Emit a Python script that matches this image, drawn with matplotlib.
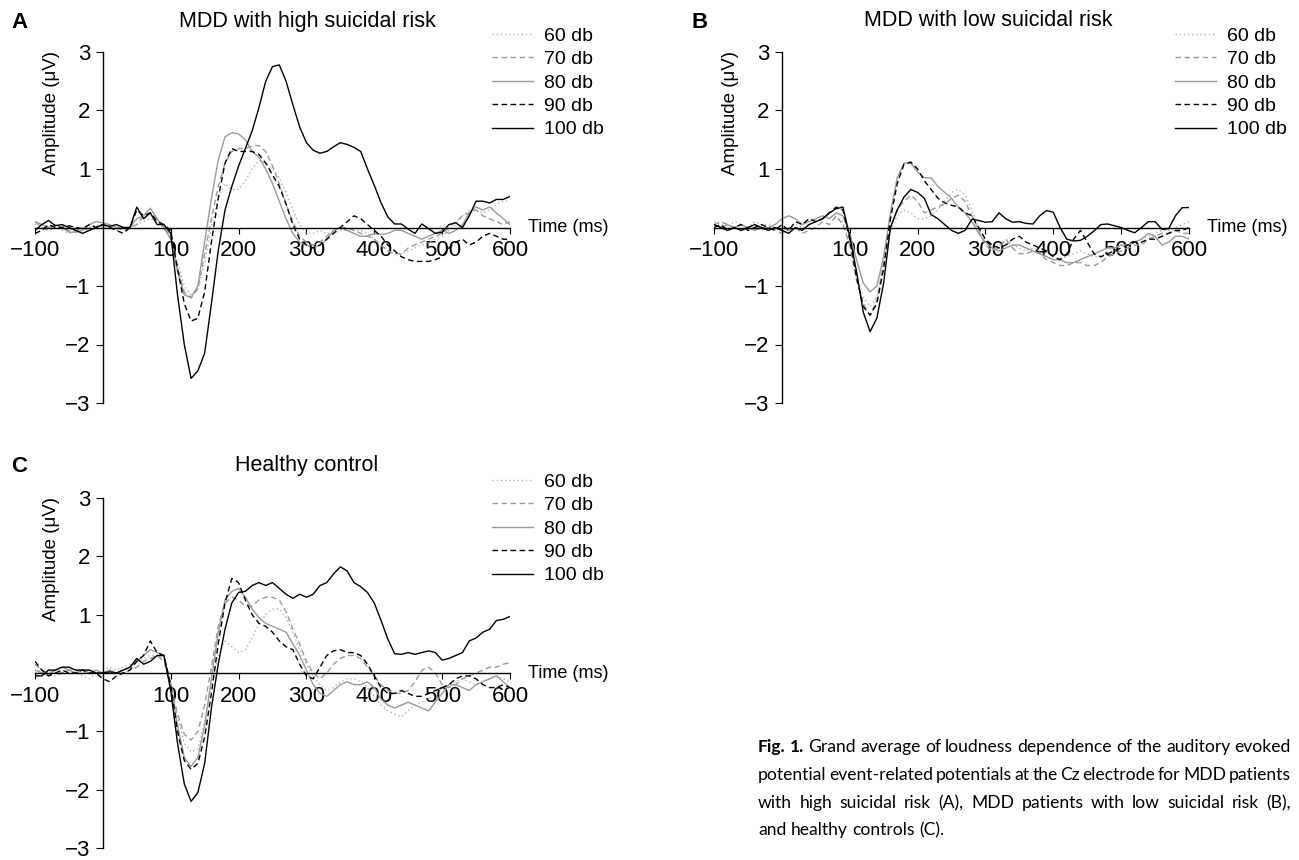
import matplotlib
matplotlib.use("Agg")
import matplotlib.pyplot as plt
import numpy as np

plt.rcParams['font.family'] = ['Liberation Sans', 'DejaVu Sans']

# time axis (ms), one sample every 10 ms
t = np.arange(-100, 601, 10)

labels = ['60 db', '70 db', '80 db', '90 db', '100 db']

# ---- A: MDD with high suicidal risk ----
a60 = [0.05, 0.0, -0.05, 0.0, -0.05, -0.1, -0.05, -0.05, 0.0, 0.05,
       0.0, 0.0, -0.05, 0.0, 0.0, 0.05, 0.1, 0.15, 0.1, 0.0,
       -0.2, -0.6, -1.0, -1.15, -1.05, -0.6, 0.0, 0.5, 0.75, 0.65,
       0.65, 0.8, 1.0, 1.15, 1.1, 1.0, 0.85, 0.6, 0.3, 0.05,
       -0.1, -0.1, -0.05, -0.1, -0.1, -0.05, -0.05, -0.05, -0.05, -0.1,
       -0.2, -0.3, -0.4, -0.45, -0.45, -0.4, -0.35, -0.3, -0.25, -0.2,
       -0.15, -0.05, 0.05, 0.2, 0.3, 0.3, 0.25, 0.3, 0.4, 0.45,
       0.45]
a70 = [0.1, 0.0, -0.05, 0.05, 0.0, -0.05, -0.05, 0.0, -0.05, 0.0,
       0.05, 0.0, 0.0, -0.05, 0.0, 0.05, 0.2, 0.25, 0.15, 0.0,
       -0.15, -0.7, -1.1, -1.2, -1.05, -0.45, 0.15, 0.7, 1.1, 1.3,
       1.35, 1.35, 1.4, 1.4, 1.3, 1.05, 0.75, 0.4, 0.1, -0.15,
       -0.25, -0.3, -0.25, -0.15, -0.05, 0.0, 0.0, -0.05, -0.1, -0.15,
       -0.2, -0.3, -0.4, -0.45, -0.45, -0.35, -0.3, -0.25, -0.2, -0.15,
       -0.1, 0.0, 0.1, 0.2, 0.25, 0.3, 0.2, 0.15, 0.1, 0.05,
       0.1]
a80 = [0.1, 0.05, 0.0, 0.05, 0.0, -0.08, -0.08, -0.05, 0.05, 0.1,
       0.08, 0.05, 0.0, 0.0, 0.0, 0.15, 0.2, 0.33, 0.15, 0.0,
       -0.2, -0.75, -1.15, -1.2, -1.0, -0.25, 0.5, 1.15, 1.55, 1.62,
       1.6, 1.5, 1.3, 1.2, 1.0, 0.75, 0.45, 0.15, -0.1, -0.25,
       -0.3, -0.35, -0.3, -0.2, -0.05, 0.0, -0.05, -0.1, -0.15, -0.15,
       -0.1, -0.12, -0.1, -0.05, -0.05, -0.1, -0.15, -0.2, -0.15, -0.1,
       -0.05, -0.1, -0.05, 0.05, 0.25, 0.35, 0.3, 0.35, 0.25, 0.15,
       0.05]
a90 = [-0.1, -0.05, 0.05, 0.0, 0.0, 0.03, 0.0, -0.02, 0.05, 0.0,
       0.05, 0.0, -0.05, -0.1, 0.0, 0.3, 0.2, 0.25, 0.1, 0.05,
       -0.05, -0.7, -1.3, -1.6, -1.55, -1.1, -0.25, 0.5, 1.1, 1.35,
       1.3, 1.3, 1.3, 1.25, 1.1, 0.9, 0.7, 0.4, 0.05, -0.2,
       -0.3, -0.35, -0.3, -0.2, -0.1, 0.0, 0.1, 0.2, 0.15, 0.05,
       -0.05, -0.15, -0.3, -0.4, -0.5, -0.55, -0.58, -0.58, -0.58, -0.55,
       -0.5, -0.35, -0.25, -0.2, -0.3, -0.25, -0.15, -0.1, -0.15, -0.2,
       -0.2]
a100 = [-0.05, 0.05, 0.12, 0.03, 0.05, 0.0, -0.05, -0.1, -0.05, 0.0,
        0.05, 0.02, 0.05, 0.0, 0.0, 0.35, 0.15, 0.25, 0.05, 0.05,
        -0.1, -1.15, -2.0, -2.58, -2.45, -2.15, -1.3, -0.4, 0.3, 0.7,
        1.05, 1.35, 1.65, 2.05, 2.5, 2.75, 2.78, 2.5, 2.1, 1.72,
        1.45, 1.32, 1.27, 1.3, 1.38, 1.45, 1.42, 1.37, 1.3, 1.0,
        0.72, 0.42, 0.18, 0.06, 0.06, -0.03, -0.1, 0.06, -0.02, -0.1,
        -0.08, 0.05, 0.08, 0.0, 0.2, 0.45, 0.45, 0.42, 0.48, 0.48,
        0.53]

# ---- B: MDD with low suicidal risk ----
b60 = [0.1, 0.05, 0.0, 0.1, 0.05, 0.0, 0.1, 0.05, 0.05, 0.0,
       -0.05, 0.0, 0.05, 0.0, 0.05, 0.1, 0.15, 0.2, 0.15, 0.1,
       -0.25, -0.8, -1.2, -1.35, -1.2, -0.6, -0.05, 0.2, 0.3, 0.25,
       0.15, 0.15, 0.2, 0.3, 0.45, 0.6, 0.65, 0.55, 0.3, 0.0,
       -0.25, -0.4, -0.3, -0.2, -0.3, -0.35, -0.4, -0.35, -0.4, -0.5,
       -0.55, -0.55, -0.5, -0.45, -0.4, -0.45, -0.5, -0.5, -0.4, -0.35,
       -0.3, -0.3, -0.25, -0.2, -0.15, -0.1, -0.05, -0.05, 0.0, 0.05,
       0.1]
b70 = [0.05, 0.1, 0.05, 0.0, -0.05, 0.0, 0.05, -0.05, 0.0, -0.05,
       -0.1, -0.05, 0.0, -0.1, -0.05, 0.0, 0.1, 0.05, 0.2, 0.05,
       -0.3, -0.9, -1.3, -1.5, -1.25, -0.6, 0.0, 0.3, 0.45, 0.55,
       0.45, 0.25, 0.3, 0.35, 0.4, 0.5, 0.55, 0.45, 0.2, -0.05,
       -0.3, -0.4, -0.35, -0.2, -0.35, -0.45, -0.45, -0.4, -0.45, -0.55,
       -0.6, -0.65, -0.65, -0.6, -0.6, -0.65, -0.65, -0.6, -0.5, -0.45,
       -0.4, -0.35, -0.3, -0.3, -0.2, -0.15, -0.1, -0.1, -0.05, -0.1,
       -0.1]
b80 = [0.05, 0.0, 0.05, 0.0, 0.05, 0.0, -0.05, 0.0, 0.0, 0.05,
       0.15, 0.2, 0.15, 0.05, 0.1, 0.15, 0.2, 0.15, 0.25, 0.2,
       -0.1, -0.55, -0.95, -1.1, -1.0, -0.5, 0.25, 0.85, 1.1, 1.1,
       0.95, 0.85, 0.85, 0.7, 0.6, 0.5, 0.35, 0.25, 0.1, -0.1,
       -0.25, -0.35, -0.4, -0.35, -0.3, -0.3, -0.35, -0.4, -0.45, -0.5,
       -0.55, -0.55, -0.6, -0.6, -0.55, -0.5, -0.45, -0.4, -0.35, -0.35,
       -0.3, -0.3, -0.25, -0.2, -0.1, -0.15, -0.3, -0.25, -0.15, -0.15,
       -0.2]
b90 = [0.0, 0.05, -0.05, 0.0, 0.05, -0.05, 0.0, 0.05, 0.0, -0.05,
       0.05, -0.05, 0.1, 0.05, 0.15, 0.1, 0.15, 0.25, 0.35, 0.3,
       -0.2, -0.85, -1.35, -1.5, -1.3, -0.7, 0.15, 0.75, 1.08, 1.12,
       1.0, 0.8, 0.65, 0.5, 0.42, 0.38, 0.35, 0.25, 0.2, 0.0,
       -0.2, -0.3, -0.35, -0.3, -0.2, -0.15, -0.25, -0.3, -0.35, -0.4,
       -0.5, -0.55, -0.45, -0.2, -0.05, -0.25, -0.45, -0.5, -0.45, -0.4,
       -0.35, -0.3, -0.25, -0.25, -0.2, -0.2, -0.15, -0.1, -0.05, -0.05,
       0.0]
b100 = [0.05, 0.0, -0.05, 0.0, -0.05, 0.0, 0.05, 0.0, -0.05, 0.0,
        -0.05, -0.1, 0.0, -0.05, 0.05, 0.1, 0.15, 0.25, 0.32, 0.35,
        -0.15, -0.75, -1.45, -1.78, -1.55, -0.95, 0.0, 0.3, 0.52, 0.65,
        0.6, 0.5, 0.22, 0.15, 0.05, -0.05, -0.1, -0.05, 0.14, 0.12,
        0.09, 0.1, 0.25, 0.15, 0.09, 0.1, 0.07, 0.06, 0.2, 0.29,
        0.26, 0.0, -0.2, -0.23, -0.22, -0.15, -0.06, 0.05, 0.06, 0.03,
        0.0, -0.05, -0.09, 0.0, 0.1, 0.1, -0.03, -0.02, 0.2, 0.34,
        0.34]

# ---- C: Healthy control ----
c60 = [0.0, 0.05, 0.0, -0.05, 0.0, 0.05, 0.0, -0.05, -0.1, 0.0,
       0.05, 0.1, 0.05, 0.1, 0.15, 0.2, 0.25, 0.3, 0.3, 0.25,
       -0.2, -0.75, -1.2, -1.35, -1.3, -0.85, -0.2, 0.3, 0.55, 0.45,
       0.35, 0.4, 0.6, 0.85, 1.0, 1.1, 1.1, 0.95, 0.7, 0.4,
       0.15, -0.05, -0.2, -0.3, -0.25, -0.15, -0.1, -0.1, -0.15, -0.25,
       -0.4, -0.55, -0.65, -0.7, -0.75, -0.65, -0.55, -0.5, -0.45, -0.35,
       -0.25, -0.2, -0.15, -0.1, -0.15, -0.2, -0.15, -0.1, -0.05, -0.1,
       -0.15]
c70 = [0.15, 0.05, 0.0, 0.05, 0.0, 0.05, 0.05, 0.0, 0.05, 0.0,
       0.0, 0.05, 0.0, 0.0, 0.05, 0.1, 0.2, 0.25, 0.3, 0.2,
       -0.2, -0.7, -1.05, -1.15, -1.0, -0.55, 0.1, 0.8, 1.2, 1.3,
       1.25, 1.15, 1.15, 1.25, 1.3, 1.3, 1.25, 1.05, 0.75, 0.5,
       0.2, 0.0, -0.1, 0.0, 0.15, 0.25, 0.3, 0.3, 0.25, 0.1,
       -0.05, -0.2, -0.3, -0.35, -0.35, -0.3, -0.15, 0.05, 0.1, 0.0,
       -0.2, -0.25, -0.2, -0.1, -0.05, 0.0, 0.05, 0.1, 0.1, 0.15,
       0.18]
c80 = [0.05, 0.0, -0.05, 0.05, 0.1, 0.05, 0.0, 0.05, 0.0, 0.05,
       0.0, 0.05, 0.0, 0.05, 0.1, 0.2, 0.3, 0.4, 0.35, 0.3,
       -0.2, -0.9, -1.45, -1.6, -1.45, -0.9, -0.1, 0.7, 1.25, 1.4,
       1.45, 1.3, 1.1, 0.95, 0.85, 0.8, 0.75, 0.7, 0.5, 0.3,
       0.05, -0.2, -0.35, -0.4, -0.3, -0.2, -0.15, -0.2, -0.2, -0.15,
       -0.25, -0.45, -0.55, -0.6, -0.55, -0.5, -0.55, -0.6, -0.65, -0.5,
       -0.35, -0.2, -0.2, -0.25, -0.3, -0.2, -0.15, -0.1, -0.05, -0.15,
       -0.25]
c90 = [0.2, 0.05, -0.05, 0.0, 0.05, 0.0, 0.0, 0.05, 0.0, 0.0,
       -0.1, -0.15, -0.05, 0.0, 0.05, 0.2, 0.3, 0.55, 0.35, 0.3,
       -0.2, -1.0, -1.5, -1.65, -1.55, -1.1, -0.35, 0.5, 1.2, 1.62,
       1.55, 1.25, 1.0, 0.85, 0.8, 0.7, 0.55, 0.45, 0.4, 0.15,
       -0.05, -0.1, 0.1, 0.3, 0.38, 0.4, 0.35, 0.35, 0.3, 0.15,
       -0.05, -0.25, -0.35, -0.35, -0.3, -0.35, -0.4, -0.4, -0.35, -0.3,
       -0.25, -0.2, -0.1, -0.05, -0.05, -0.1, -0.2, -0.25, -0.25, -0.2,
       -0.25]
c100 = [-0.05, -0.05, 0.05, 0.05, 0.1, 0.1, 0.05, 0.05, 0.05, 0.0,
        0.0, 0.02, 0.0, 0.05, 0.1, 0.25, 0.15, 0.2, 0.3, 0.3,
        -0.3, -1.2, -1.9, -2.2, -2.05, -1.55, -0.6, 0.15, 0.75, 1.2,
        1.38, 1.4, 1.5, 1.55, 1.5, 1.55, 1.45, 1.35, 1.28, 1.35,
        1.3, 1.35, 1.5, 1.55, 1.7, 1.82, 1.75, 1.55, 1.48, 1.38,
        1.2, 0.9, 0.58, 0.33, 0.32, 0.35, 0.32, 0.35, 0.38, 0.35,
        0.22, 0.25, 0.3, 0.35, 0.55, 0.6, 0.7, 0.75, 0.9, 0.92,
        0.97]

titles = ['MDD with high suicidal risk', 'MDD with low suicidal risk', 'Healthy control']
letters = ['A', 'B', 'C']

styles = [dict(color='#b0b0b0', ls=(0, (1, 2))),
          dict(color='#9a9a9a', ls=(0, (4, 2.5))),
          dict(color='#9a9a9a', ls='-'),
          dict(color='black', ls=(0, (4, 2.5))),
          dict(color='black', ls='-')]

W, H = 1299, 860
fig = plt.figure(figsize=(W / 100, H / 100), dpi=100)

def px(x, y):
    return x / W, 1 - y / H

# axes boxes in pixels: x of -100 ms, x of 600 ms, y of +3, y of -3
boxes = [(35, 510, 52, 403), (714, 1189, 52, 403), (35, 510, 498, 848)]
panels = [[a60, a70, a80, a90, a100],
          [b60, b70, b80, b90, b100],
          [c60, c70, c80, c90, c100]]
legend_x = [492, 1175, 492]

for k in range(3):
    x0, x1, y0, y1 = boxes[k]
    ax = fig.add_axes([x0 / W, 1 - y1 / H, (x1 - x0) / W, (y1 - y0) / H])
    for vals, lab, st in zip(panels[k], labels, styles):
        ax.plot(t, vals, lw=1.0, label=lab, **st)
    ax.set_xlim(-100, 600)
    ax.set_ylim(-3, 3)
    for s in ['top', 'right']:
        ax.spines[s].set_visible(False)
    ax.spines['left'].set_position(('data', 0))
    ax.spines['bottom'].set_position(('data', 0))
    ax.spines['left'].set_bounds(-3, 3)
    ax.spines['bottom'].set_bounds(-100, 600)
    ax.spines['left'].set_linewidth(1.0)
    ax.spines['bottom'].set_linewidth(1.0)
    ax.set_xticks([-100, 100, 200, 300, 400, 500, 600])
    ax.set_yticks([-3, -2, -1, 1, 2, 3])
    ax.tick_params(axis='x', direction='out', length=4, pad=5, labelsize=16)
    ax.tick_params(axis='y', direction='out', length=5, pad=4, labelsize=16)
    ax.patch.set_alpha(0)
    ax.text(626, 0, 'Time (ms)', ha='left', va='center', fontsize=13, clip_on=False)
    ax.text(-75, 1.95, 'Amplitude (\u03bcV)', rotation=90, ha='center', va='center',
            fontsize=13.5, clip_on=False)
    # legend to the upper right
    ly = y0 - 25
    ax.legend(loc='upper left', bbox_to_anchor=px(legend_x[k], ly),
              bbox_transform=fig.transFigure,
              frameon=False, fontsize=14, handlelength=2.1, handletextpad=0.55,
              labelspacing=0.3, borderpad=0, borderaxespad=0)

# titles and panel letters
fig.text(*px(307, 21), titles[0], ha='center', va='center', fontsize=15.5)
fig.text(*px(988, 21), titles[1], ha='center', va='center', fontsize=15.5)
fig.text(*px(307, 466), titles[2], ha='center', va='center', fontsize=15.5)
fig.text(*px(19, 22), 'A', ha='center', va='center', fontsize=16, fontweight='bold')
fig.text(*px(700, 22), 'B', ha='center', va='center', fontsize=16, fontweight='bold')
fig.text(*px(19, 467), 'C', ha='center', va='center', fontsize=16, fontweight='bold')

# caption, justified by hand
cap = [
    [('Fig.', 'bold'), ('1.', 'bold')] + [(w, 'normal') for w in
        'Grand average of loudness dependence of the auditory evoked'.split()],
    [(w, 'normal') for w in
        'potential event-related potentials at the Cz electrode for MDD patients'.split()],
    [(w, 'normal') for w in
        'with high suicidal risk (A), MDD patients with low suicidal risk (B),'.split()],
    [(w, 'normal') for w in 'and healthy controls (C).'.split()],
]
cap_y = [747, 775, 803, 830]
cx0, cx1 = 758, 1291
renderer = fig.canvas.get_renderer()
for i, line in enumerate(cap):
    objs = []
    for w, wt in line:
        objs.append(fig.text(0, 1 - cap_y[i] / H, w, fontsize=12.6, fontweight=wt,
                             family=['Lato', 'DejaVu Sans'], va='center', ha='left'))
    widths = [o.get_window_extent(renderer).width for o in objs]
    if i < len(cap) - 1:
        gap = (cx1 - cx0 - sum(widths)) / (len(objs) - 1)
    else:
        gap = 4.5
    x = cx0
    for o, wd in zip(objs, widths):
        o.set_x(x / W)
        x += wd + gap

fig.savefig('out.png', dpi=100)
